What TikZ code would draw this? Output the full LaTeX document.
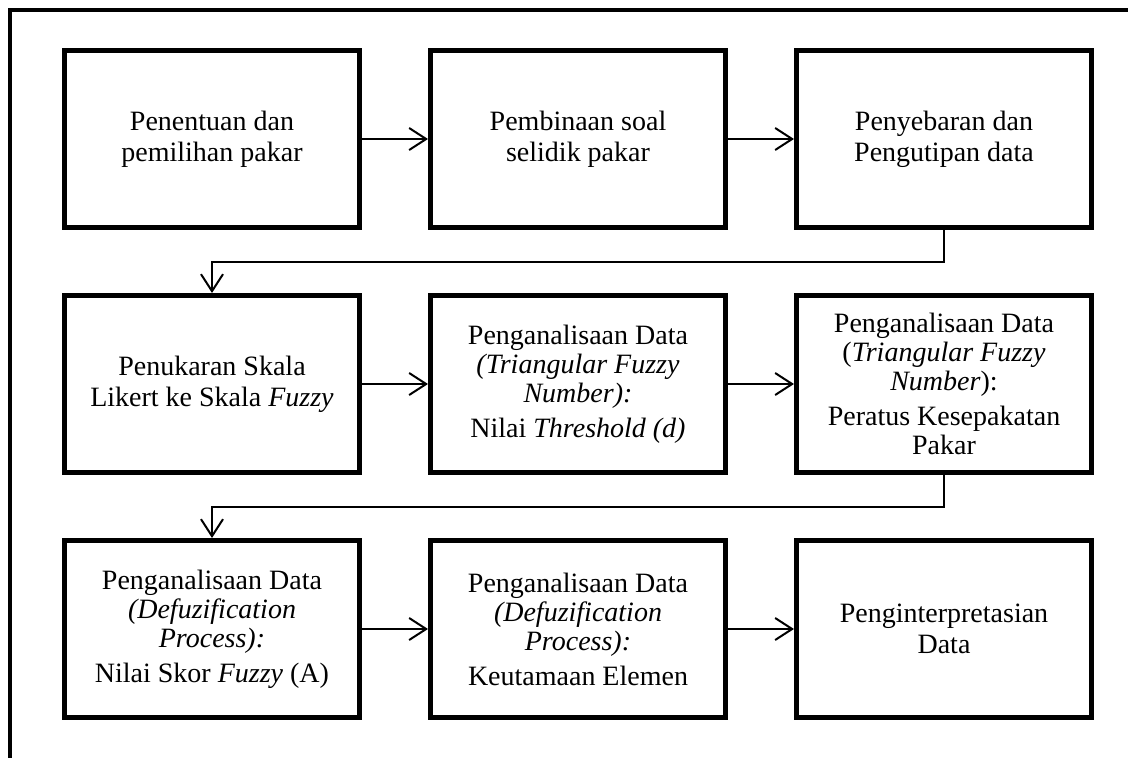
\documentclass[tikz,border=0pt]{standalone}
\usepackage{fontspec}
\setmainfont{Liberation Serif}
\usetikzlibrary{calc,arrows.meta}

\tikzset{
	stepbox/.style={draw,line width=5pt,minimum width=295pt,minimum height=177pt,
		inner sep=0pt,align=center,font=\fontsize{28}{29}\selectfont},
	link/.style={line width=2pt,->},
}

\begin{document}
\begin{tikzpicture}[x=1pt,y=-1pt,>={Straight Barb[length=17pt,width=22pt]}]
\useasboundingbox (0,0) rectangle (1128,758);

% draw the frame
\draw[line width=3.5pt] (10,758) -- (10,10) -- (1128,10);

% draw the boxes, row by row
\foreach \name/\x/\y/\txt in {
	% the first row
	b1/212/139/{Penentuan dan\\[2pt]pemilihan pakar},
	b2/578/139/{Pembinaan soal\\[2pt]selidik pakar},
	b3/944/139/{Penyebaran dan\\[2pt]Pengutipan data},
	% the second row
	b4/212/384/{Penukaran Skala\\[2pt]Likert ke Skala \textit{Fuzzy}},
	b5/578/384/{Penganalisaan Data\\\textit{(Triangular Fuzzy}\\\textit{Number):}\\[6pt]Nilai \textit{Threshold (d)}},
	b6/944/384/{Penganalisaan Data\\(\textit{Triangular Fuzzy}\\\textit{Number}):\\[6pt]Peratus Kesepakatan\\Pakar},
	% the third row
	b7/212/629/{Penganalisaan Data\\\textit{(Defuzification}\\\textit{Process):}\\[6pt]Nilai Skor \textit{Fuzzy} (A)},
	b8/578/629/{Penganalisaan Data\\\textit{(Defuzification}\\\textit{Process):}\\[6pt]Keutamaan Elemen},
	b9/944/629/{Penginterpretasian\\[2pt]Data}}
\node[stepbox] (\name) at (\x,\y) {\txt};

% arrows inside each row
\foreach \a/\b in {b1/b2,b2/b3,b4/b5,b5/b6,b7/b8,b8/b9}
\draw[link] (\a) -- (\b);

% arrows from the end of one row to the start of the next
\coordinate (m1) at ($(b3.south)!0.5!(b6.north)$);
\coordinate (m2) at ($(b6.south)!0.5!(b9.north)$);
\draw[link] (b3.south) -- (m1) -| (b4.north);
\draw[link] (b6.south) -- (m2) -| (b7.north);
\end{tikzpicture}
\end{document}
